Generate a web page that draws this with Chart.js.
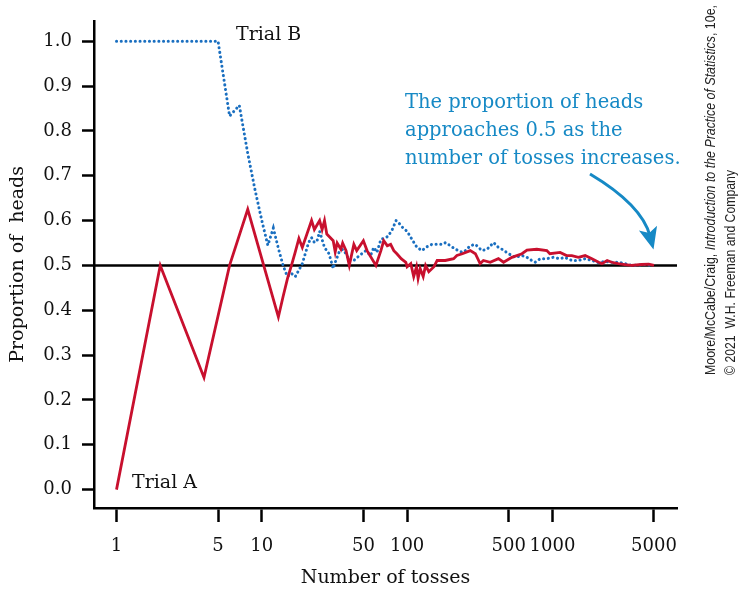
<!DOCTYPE html>
<html>
<head>
<meta charset="utf-8">
<script src="https://cdn.jsdelivr.net/npm/chart.js@4"></script>
<style>
  html, body { margin: 0; padding: 0; background: #fff; }
  #wrap { width: 745px; height: 593px; position: relative; }
</style>
</head>
<body>
<div id="wrap"><canvas id="chart"></canvas></div>
<script>
// toss counts and running proportion of heads
const tossesA = [1,2,4,6,8,13,14,15,16,17,18,19,22,23,25,26,27,28,31,32,33,35,36,38,40,43,45,50,53,
  61,66,69,73,77,81,85,91,98,100,106,111,116,119,123,129,134,141,153,161,183,209,220,240,
  272,295,318,335,373,425,461,526,617,668,781,915,960,1130,1250,
  1360,1510,1680,1870,2080,2190,2380,2560,2840,3150,3500,4100,4600,5000];
const propA = [0,.5,.25,.5,.625,.385,.43,.47,.5,.53,.56,.54,
  .60,.58,.60,.58,.60,.57,.555,.53,.55,.536,.55,.533,.50,.547,.533,.555,.533,
  .50,.533,.555,.544,.547,.533,.526,.515,.507,.497,.504,.475,.497,.471,.493,.475,.50,.486,.497,.511,.511,.515,.522,.526,
  .533,.526,.504,.511,.507,.515,.507,.518,.526,.534,.536,.533,.526,.529,.522,
  .522,.518,.522,.515,.507,.504,.511,.507,.504,.502,.50,.502,.503,.50];

const tossesB = [1,2,3,4,5,6,7,8,9,10,11,12,13,14,15,16,17,
  19,21,22,23,24,25,27,29,31,32,34,36,38,40,43,47,
  52,56,59,62,66,71,74,79,84,88,94,100,108,117,127,134,148,175,184,198,215,240,252,
  272,295,327,355,394,425,450,500,555,617,668,720,760,825,915,1010,1130,1220,
  1360,1510,1680,1870,2080,2300,2560,2840,3150,3500,4400,4800];
const propB = [1,1,1,1,1,.833,.857,.75,.667,.6,.545,.583,.538,.5,.475,.482,.475,
  .504,.551,.562,.551,.555,.576,.54,.526,.493,.507,.529,.536,.526,.511,.511,.522,
  .533,.522,.54,.529,.558,.562,.565,.58,.60,.594,.583,.576,.558,.54,.533,.54,.547,.547,.551,.544,.536,.529,.533,
  .544,.547,.533,.536,.551,.54,.536,.526,.518,.522,.518,.511,.507,.515,.515,.518,.515,.518,
  .511,.511,.515,.511,.506,.509,.507,.507,.504,.50,.502,.50];

const xTicks = [1, 5, 10, 50, 100, 500, 1000, 5000];
const yTicks = [0, 0.1, 0.2, 0.3, 0.4, 0.5, 0.6, 0.7, 0.8, 0.9, 1.0];
const refLine = 0.5;

const serif = "'DejaVu Serif', serif";
const noteBlue = "#1689c5";

const toPoints = (xs, ys) => xs.map((x, i) => ({ x: x, y: ys[i] }));

const refLinePlugin = {
  id: "refLine",
  beforeDatasetsDraw(chart) {
    const { ctx, chartArea, scales } = chart;
    const y = scales.y.getPixelForValue(refLine);
    ctx.save();
    ctx.strokeStyle = "#000";
    ctx.lineWidth = 2.5;
    ctx.beginPath();
    ctx.moveTo(chartArea.left, y);
    ctx.lineTo(chartArea.right, y);
    ctx.stroke();
    ctx.restore();
  }
};

const notesPlugin = {
  id: "notes",
  afterDraw(chart) {
    const ctx = chart.ctx;
    ctx.save();
    ctx.fillStyle = "#111";
    ctx.font = "19px " + serif;
    ctx.textBaseline = "middle";
    ctx.textAlign = "left";
    ctx.fillText("Trial B", 236, 35);
    ctx.fillText("Trial A", 132, 483);

    // blue note
    ctx.fillStyle = noteBlue;
    ctx.font = "19.5px " + serif;
    ctx.fillText("The proportion of heads", 405, 103);
    ctx.fillText("approaches 0.5 as the", 405, 131);
    ctx.fillText("number of tosses increases.", 405, 159);

    // curved arrow
    const p0 = [590, 174], c = [642, 205], p2 = [650, 236];
    ctx.strokeStyle = noteBlue;
    ctx.lineWidth = 3;
    ctx.beginPath();
    ctx.moveTo(p0[0], p0[1]);
    ctx.quadraticCurveTo(c[0], c[1], p2[0], p2[1]);
    ctx.stroke();
    const ang = Math.atan2(p2[1] - c[1], p2[0] - c[0]);
    const tip = [p2[0] + Math.cos(ang) * 14, p2[1] + Math.sin(ang) * 14];
    ctx.beginPath();
    ctx.moveTo(tip[0], tip[1]);
    ctx.lineTo(tip[0] - Math.cos(ang - 0.4) * 24, tip[1] - Math.sin(ang - 0.4) * 24);
    ctx.lineTo(p2[0] - Math.cos(ang) * 3, p2[1] - Math.sin(ang) * 3);
    ctx.lineTo(tip[0] - Math.cos(ang + 0.4) * 24, tip[1] - Math.sin(ang + 0.4) * 24);
    ctx.closePath();
    ctx.fill();

    // credit line, rotated
    const drawRotated = (parts, cx, y0, len) => {
      ctx.save();
      ctx.translate(cx, y0);
      ctx.rotate(-Math.PI / 2);
      ctx.textBaseline = "middle";
      let w = 0;
      parts.forEach(p => { ctx.font = p[1] + "14px 'Liberation Sans', sans-serif"; w += ctx.measureText(p[0]).width; });
      ctx.scale(len / w, 1);
      let x = 0;
      parts.forEach(p => {
        ctx.font = p[1] + "14px 'Liberation Sans', sans-serif";
        ctx.fillText(p[0], x, 0);
        x += ctx.measureText(p[0]).width;
      });
      ctx.restore();
    };
    ctx.fillStyle = "#222";
    drawRotated([["Moore/McCabe/Craig, ", ""], ["Introduction to the Practice of Statistics", "italic "], [", 10e,", ""]], 711, 375, 370);
    drawRotated([["\u00A9 2021  W.H. Freeman and Company", ""]], 731, 375, 205);
    ctx.restore();
  }
};

new Chart(document.getElementById("chart"), {
  type: "line",
  data: {
    datasets: [
      {
        label: "Trial A",
        data: toPoints(tossesA, propA),
        borderColor: "#c8102e",
        borderWidth: 2.8,
        pointRadius: 0,
        tension: 0,
        borderJoinStyle: "miter"
      },
      {
        label: "Trial B",
        data: toPoints(tossesB, propB),
        borderColor: "#1a6fc0",
        borderWidth: 3,
        borderDash: [0.1, 4.6],
        borderCapStyle: "round",
        pointRadius: 0,
        tension: 0
      }
    ]
  },
  options: {
    responsive: true,
    maintainAspectRatio: false,
    animation: false,
    layout: { padding: { left: 0, right: 68, top: 7, bottom: 0 } },
    plugins: { legend: { display: false }, tooltip: { enabled: false } },
    scales: {
      x: {
        type: "logarithmic",
        min: 0.718,
        max: 7200,
        afterBuildTicks: (scale) => { scale.ticks = xTicks.map(v => ({ value: v })); },
        afterFit: (scale) => { scale.height = 85; },
        ticks: {
          autoSkip: false,
          maxRotation: 0,
          padding: 14,
          color: "#111",
          font: { family: serif, size: 18 },
          callback: (v) => String(v)
        },
        grid: { drawOnChartArea: false, drawTicks: true, tickLength: 14, tickWidth: 2.5, tickColor: "#000" },
        border: { display: true, color: "#000", width: 2.5 },
        title: {
          display: true,
          text: "Number of tosses",
          color: "#111",
          font: { family: serif, size: 19 },
          padding: { top: 4, bottom: 4 }
        }
      },
      y: {
        type: "linear",
        min: -0.041,
        max: 1.0455,
        afterBuildTicks: (scale) => { scale.ticks = yTicks.map(v => ({ value: v })); },
        afterFit: (scale) => { scale.width = 94; },
        ticks: {
          padding: 10,
          color: "#111",
          font: { family: serif, size: 18 },
          callback: (v) => Number(v).toFixed(1)
        },
        grid: { drawOnChartArea: false, drawTicks: true, tickLength: 12, tickWidth: 2.5, tickColor: "#000" },
        border: { display: true, color: "#000", width: 2.5 },
        title: {
          display: true,
          text: "Proportion of  heads",
          color: "#111",
          font: { family: serif, size: 19 },
          padding: { top: 7, bottom: 4 }
        }
      }
    }
  },
  plugins: [refLinePlugin, notesPlugin]
});
</script>
</body>
</html>
